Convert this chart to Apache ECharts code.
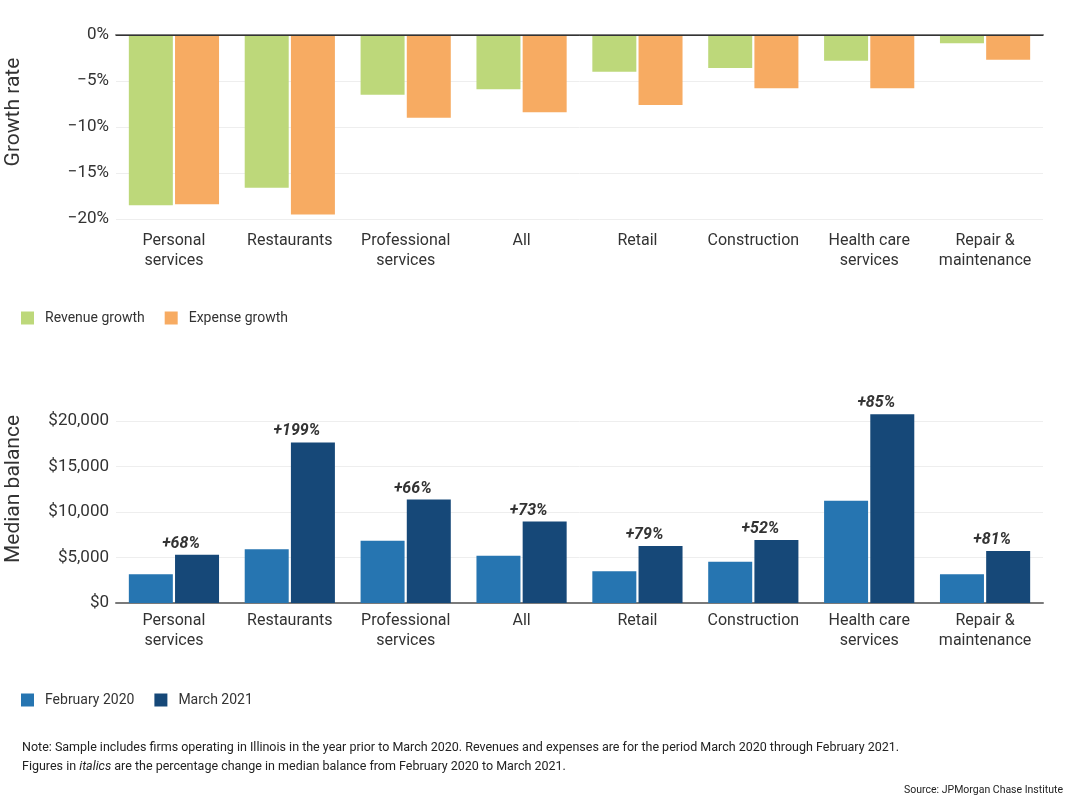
<!DOCTYPE html>
<html>
<head>
<meta charset="utf-8">
<script src="https://cdn.jsdelivr.net/npm/echarts@6/dist/echarts.min.js"></script>
<style>
  html, body { margin: 0; padding: 0; background: #fff; }
  #main { width: 1071px; height: 801px; }
</style>
</head>
<body>
<div id="main"></div>
<script>
var industries = ['Personal\nservices', 'Restaurants', 'Professional\nservices', 'All', 'Retail',
    'Construction', 'Health care\nservices', 'Repair &\nmaintenance'];

// top panel: growth rates, %
var revenueGrowth = [-18.5, -16.6, -6.5, -5.9, -4.0, -3.6, -2.8, -0.9];
var expenseGrowth = [-18.4, -19.5, -9.0, -8.4, -7.6, -5.8, -5.8, -2.7];

// bottom panel: median balances, $
var balanceFeb2020 = [3150, 5900, 6850, 5200, 3480, 4540, 11250, 3150];
var balanceMar2021 = [5300, 17650, 11360, 8950, 6260, 6920, 20730, 5710];
var balanceChange = ['+68%', '+199%', '+66%', '+73%', '+79%', '+52%', '+85%', '+81%'];

var growthTicks = [-20, -15, -10, -5, 0];
var balanceTicks = [0, 5000, 10000, 15000, 20000];

var FONT = 'Roboto, "Noto Sans", sans-serif';
var TXT = '#333';

var myChart = echarts.init(document.getElementById('main'));

function catAxis(gridIndex, offset, margin) {
    return {
        type: 'category',
        gridIndex: gridIndex,
        data: industries,
        offset: offset,
        axisLine: { lineStyle: { color: '#7a7a7a', width: 2 } },
        axisTick: { length: 8, lineStyle: { color: '#555' } },
        axisLabel: {
            color: TXT, fontSize: 16, fontFamily: FONT, margin: margin, lineHeight: 20, interval: 0
        }
    };
}

function axisTitle(text, cy) {
    return {
        type: 'text', x: 14, y: cy, rotation: Math.PI / 2,
        style: {
            text: text, fill: TXT, font: '21px ' + FONT,
            textAlign: 'center', textVerticalAlign: 'middle'
        }
    };
}

myChart.setOption({
    animation: false,
    textStyle: { fontFamily: FONT },
    grid: [
        { left: 116, right: 28, top: 35, height: 184 },
        { left: 116, right: 28, top: 421, height: 182 }
    ],
    legend: [{
        data: ['Revenue growth', 'Expense growth'],
        left: 16, top: 306,
        icon: 'rect', itemWidth: 13, itemHeight: 13, itemGap: 20,
        textStyle: { color: TXT, fontSize: 14, fontFamily: FONT, padding: [0, 0, 0, 6] }
    }, {
        data: ['February 2020', 'March 2021'],
        left: 16, top: 688,
        icon: 'rect', itemWidth: 13, itemHeight: 13, itemGap: 20,
        textStyle: { color: TXT, fontSize: 14, fontFamily: FONT, padding: [0, 0, 0, 6] }
    }],
    xAxis: [catAxis(0, 6, 6), catAxis(1, 0, 8)],
    yAxis: [{
        type: 'value',
        gridIndex: 0,
        min: growthTicks[0], max: growthTicks[growthTicks.length - 1], interval: 5,
        axisLine: { show: false }, axisTick: { show: false },
        axisLabel: {
            color: TXT, fontSize: 17, fontFamily: FONT, margin: 7,
            formatter: function (v) { return v === 0 ? '0%' : '\u2212' + Math.abs(v) + '%'; }
        },
        splitLine: { lineStyle: { color: '#eeeeee' } }
    }, {
        type: 'value',
        gridIndex: 1,
        min: balanceTicks[0], max: balanceTicks[balanceTicks.length - 1], interval: 5000,
        axisLine: { show: false }, axisTick: { show: false },
        axisLabel: {
            color: TXT, fontSize: 17, fontFamily: FONT, margin: 7,
            formatter: function (v) { return '$' + v.toLocaleString('en-US'); }
        },
        splitLine: { lineStyle: { color: '#eeeeee' } }
    }],
    series: [{
        name: 'Revenue growth', type: 'bar',
        xAxisIndex: 0, yAxisIndex: 0,
        data: revenueGrowth, barWidth: 44, barGap: '5%',
        itemStyle: { color: '#bdd87a' },
        markLine: {
            silent: true, symbol: 'none', label: { show: false },
            lineStyle: { color: '#333', width: 1, type: 'solid' },
            data: [{ yAxis: 0 }]
        }
    }, {
        name: 'Expense growth', type: 'bar',
        xAxisIndex: 0, yAxisIndex: 0,
        data: expenseGrowth, barWidth: 44, barGap: '5%',
        itemStyle: { color: '#f7ab62' }
    }, {
        name: 'February 2020', type: 'bar',
        xAxisIndex: 1, yAxisIndex: 1,
        data: balanceFeb2020, barWidth: 44, barGap: '5%',
        itemStyle: { color: '#2675b1' }
    }, {
        name: 'March 2021', type: 'bar',
        xAxisIndex: 1, yAxisIndex: 1,
        data: balanceMar2021, barWidth: 44, barGap: '5%',
        clip: false,
        itemStyle: { color: '#164878' },
        label: {
            show: true, position: 'top', distance: 3, offset: [-16, 0],
            color: TXT, fontSize: 16, fontWeight: 'bold', fontStyle: 'italic', fontFamily: FONT,
            formatter: function (p) { return balanceChange[p.dataIndex]; }
        }
    }],
    graphic: [
        axisTitle('Growth rate', 112),
        axisTitle('Median balance', 489),
        {
            type: 'text', left: 22, top: 741,
            style: {
                text: 'Note: Sample includes firms operating in Illinois in the year prior to March 2020. Revenues and expenses are for the period March 2020 through February 2021.',
                fill: '#222', font: '12.5px ' + FONT
            }
        }, {
            type: 'text', left: 22, top: 760,
            style: {
                text: 'Figures in {i|italics} are the percentage change in median balance from February 2020 to March 2021.',
                fill: '#222', font: '12.5px ' + FONT,
                rich: { i: { fontStyle: 'italic', fontSize: 12.5, fontFamily: FONT, fill: '#222' } }
            }
        }, {
            type: 'text', right: 8, top: 785,
            style: {
                text: 'Source: JPMorgan Chase Institute',
                fill: '#222', font: '10.5px ' + FONT
            }
        }
    ]
});
</script>
</body>
</html>
